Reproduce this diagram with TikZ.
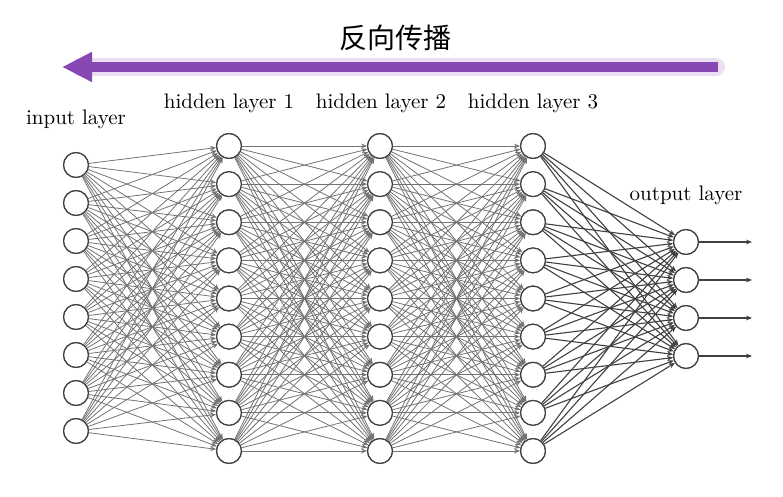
\documentclass[tikz,border=0pt]{standalone}
\usepackage{fontspec}
\newfontfamily\cjk{Noto Sans CJK SC}
\usetikzlibrary{arrows.meta}
\definecolor{bppurple}{RGB}{136,72,180}
\tikzset{
  neuron/.style={circle,draw=black!75,line width=0.6pt,fill=white,minimum size=12.4pt,inner sep=0pt},
  conn/.style={draw=black!55,line width=0.4pt,-{Stealth[length=3pt,width=2.4pt]}},
  connout/.style={draw=black!75,line width=0.55pt,-{Stealth[length=3pt,width=2.4pt]}},
  lbl/.style={font=\fontsize{10.5}{12}\selectfont,inner sep=0pt},
  title/.style={font=\cjk\fontsize{14}{16}\selectfont,inner sep=0pt}
}
\begin{document}
\begin{tikzpicture}[x=0.5pt,y=-0.5pt]
\useasboundingbox (0,0) rectangle (783,497);
% back-propagation arrow
\coordinate (arS) at (718,67);
\coordinate (arE) at (62,67);
\draw[bppurple!35,line width=9pt,opacity=0.5,line cap=round] (716,67) -- (80,67);
\draw[bppurple,line width=5pt,-{Triangle[length=15pt,width=14pt]}] (arS) -- (arE);
\node[title] (t) at (395,38) {反向传播};
% nodes
\foreach \k in {1,...,8} \node[neuron] (i\k) at (76,{165+38*(\k-1)}) {};
\foreach \k in {1,...,9} {
  \node[neuron] (a\k) at (229,{146+38.125*(\k-1)}) {};
  \node[neuron] (b\k) at (380,{146+38.125*(\k-1)}) {};
  \node[neuron] (c\k) at (533,{146+38.125*(\k-1)}) {};
}
\foreach \k in {1,...,4} {
  \node[neuron] (o\k) at (686,{242+38*(\k-1)}) {};
  \coordinate (e\k) at (752,{242+38*(\k-1)});
}
% connections
\foreach \s in {1,...,8} \foreach \t in {1,...,9} \draw[conn] (i\s) -- (a\t);
\foreach \s in {1,...,9} \foreach \t in {1,...,9} {
  \draw[conn] (a\s) -- (b\t);
  \draw[conn] (b\s) -- (c\t);
}
\foreach \s in {1,...,9} \foreach \t in {1,...,4} \draw[connout] (c\s) -- (o\t);
\foreach \k in {1,...,4} \draw[connout] (o\k) -- (e\k);
% redraw nodes on top
\foreach \k in {1,...,8} \node[neuron] at (i\k) {};
\foreach \k in {1,...,9} {\node[neuron] at (a\k) {}; \node[neuron] at (b\k) {}; \node[neuron] at (c\k) {};}
\foreach \k in {1,...,4} \node[neuron] at (o\k) {};
% labels
\node[lbl] (li) at (76,119) {input layer};
\node[lbl] (l1) at (229,103) {hidden layer 1};
\node[lbl] (l2) at (381,103) {hidden layer 2};
\node[lbl] (l3) at (533,103) {hidden layer 3};
\node[lbl] (lo) at (686,195) {output layer};
\end{tikzpicture}
\end{document}
